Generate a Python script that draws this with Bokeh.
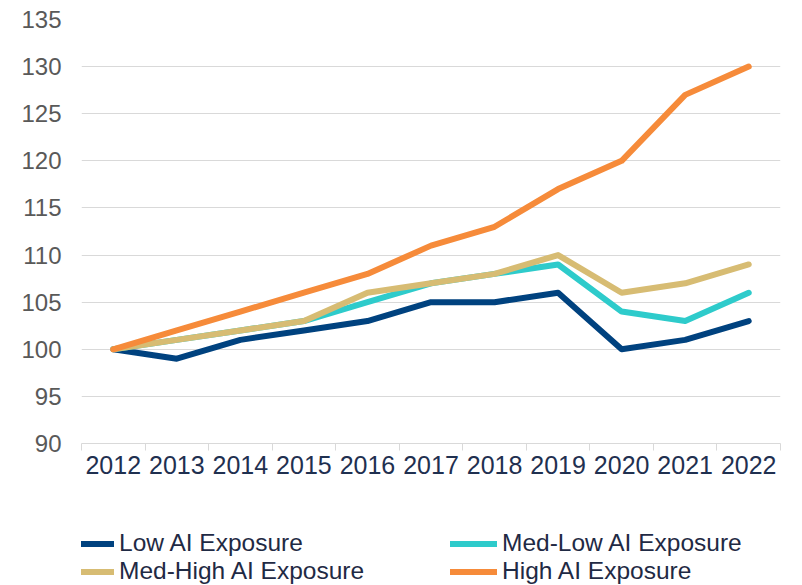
from bokeh.plotting import figure
from bokeh.layouts import column
from bokeh.models import FixedTicker, Range1d, Legend, LegendItem
from bokeh.embed import file_html
from bokeh.resources import INLINE

years = [2012, 2013, 2014, 2015, 2016, 2017, 2018, 2019, 2020, 2021, 2022]
low_ai = [100, 99, 101, 102, 103, 105, 105, 106, 100, 101, 103]
med_low_ai = [100, 101, 102, 103, 105, 107, 108, 109, 104, 103, 106]
med_high_ai = [100, 101, 102, 103, 106, 107, 108, 110, 106, 107, 109]
high_ai = [100, 102, 104, 106, 108, 111, 113, 117, 120, 127, 130]
series_names = ["Low AI Exposure", "Med-Low AI Exposure", "Med-High AI Exposure", "High AI Exposure"]
series_colors = ["#00427F", "#2ECBCB", "#D7BC73", "#F68B3A"]
y_ticks = [90, 95, 100, 105, 110, 115, 120, 125, 130, 135]

FONT = "Liberation Sans"
series = [low_ai, med_low_ai, med_high_ai, high_ai]

# ---------------- main chart ----------------
p = figure(width=802, height=500, output_backend="svg", toolbar_location=None,
           x_range=Range1d(years[0] - 0.5, years[-1] + 0.5),
           y_range=Range1d(y_ticks[0], y_ticks[-1]),
           min_border_left=81, min_border_right=22, min_border_top=19,
           min_border_bottom=57)
p.outline_line_color = None
p.background_fill_color = "white"
p.xgrid.visible = False
p.ygrid.grid_line_color = "#D9D9D9"
p.ygrid.grid_line_width = 1
p.ygrid.ticker = FixedTicker(ticks=y_ticks)

ya = p.yaxis[0]
ya.ticker = FixedTicker(ticks=y_ticks)
ya.axis_line_color = None
ya.major_tick_line_color = None
ya.minor_tick_line_color = None
ya.major_label_text_font = FONT
ya.major_label_text_font_size = "24px"
ya.major_label_text_color = "#595959"
ya.major_label_standoff = 14

xa = p.xaxis[0]
xa.ticker = FixedTicker(ticks=years, minor_ticks=[y - 0.5 for y in years] + [years[-1] + 0.5])
xa.major_label_overrides = {y: str(y) for y in years}
xa.axis_line_color = "#D9D9D9"
xa.axis_line_width = 1
xa.major_tick_line_color = None
xa.major_tick_out = 0
xa.major_tick_in = 0
xa.minor_tick_line_color = "#D9D9D9"
xa.minor_tick_out = 7
xa.minor_tick_in = 0
xa.major_label_text_font = FONT
xa.major_label_text_font_size = "25px"
xa.major_label_text_color = "#1F3050"
xa.major_label_standoff = 5

for vals, color in zip(series, series_colors):
    p.line(years, vals, line_width=6, line_color=color,
           line_cap="round", line_join="round")

# ---------------- legend strip ----------------
lg = figure(width=802, height=85, output_backend="svg", toolbar_location=None,
            x_axis_type=None, y_axis_type=None,
            x_range=Range1d(0, 1), y_range=Range1d(0, 1),
            min_border=0, min_border_left=0, min_border_right=0,
            min_border_top=0, min_border_bottom=0)
lg.outline_line_color = None
lg.grid.visible = False
leg_renderers = []
for vals, color in zip(series, series_colors):
    # same series; the strip's ranges keep them out of view, only their legend keys show
    r = lg.line(years, vals, line_width=6, line_color=color,
                line_cap="round", line_join="round")
    leg_renderers.append(r)

legend = Legend(
    items=[LegendItem(label=n, renderers=[r]) for n, r in zip(series_names, leg_renderers)],
    orientation="horizontal", ncols=2,
    location=(-14, 0),
    glyph_width=47, glyph_height=27, label_standoff=5,
    label_width=331, label_height=27, spacing=0, padding=0, margin=0,
    label_text_font=FONT, label_text_font_size="24.5px", label_text_color="#1F2A44",
    border_line_color=None, background_fill_alpha=0,
)
lg.add_layout(legend, "center")

layout = column(p, lg, spacing=0)
open("out.html", "w").write(file_html(layout, INLINE))
